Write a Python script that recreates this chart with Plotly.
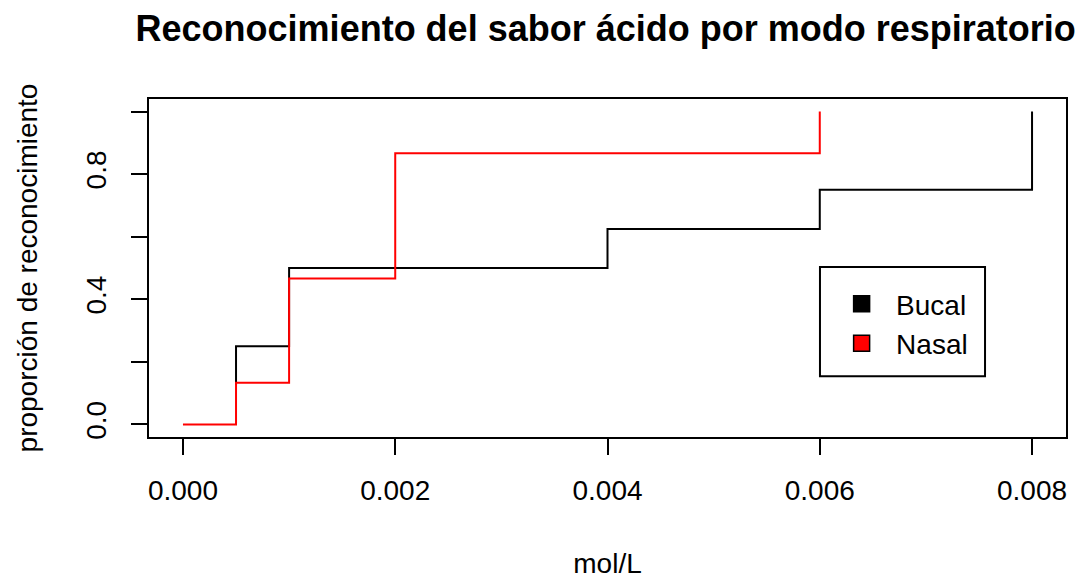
import plotly.graph_objects as go

# Data
bucal_x = [0.0005, 0.0005, 0.001, 0.004, 0.006, 0.008]
bucal_y = [0.125, 0.25, 0.5, 0.625, 0.75, 1.0]
nasal_x = [0.0, 0.0005, 0.001, 0.002, 0.006]
nasal_y = [0.0, 0.1333, 0.4667, 0.8667, 1.0]
series_names = ["Bucal", "Nasal"]
series_colors = ["black", "red"]
x_tickvals = [0.0, 0.002, 0.004, 0.006, 0.008]
x_ticktext = ["0.000", "0.002", "0.004", "0.006", "0.008"]
y_tickvals = [0.0, 0.2, 0.4, 0.6, 0.8, 1.0]
y_ticktext = ["0.0", "", "0.4", "", "0.8", ""]

FONT = "Liberation Sans, Arial, sans-serif"

fig = go.Figure()
fig.add_trace(go.Scatter(x=bucal_x, y=bucal_y, mode="lines",
                         line=dict(color=series_colors[0], width=2, shape="hv"), showlegend=False))
fig.add_trace(go.Scatter(x=nasal_x, y=nasal_y, mode="lines",
                         line=dict(color=series_colors[1], width=2, shape="hv"), showlegend=False))
for name, col in zip(series_names, series_colors):
    fig.add_trace(go.Scatter(x=[None], y=[None], mode="markers", name=name,
                             marker=dict(symbol="square", size=21, color=col,
                                         line=dict(color="black", width=1.5))))

# legend frame
fig.add_shape(type="rect", xref="paper", yref="paper", x0=0.7317, x1=0.9117, y0=0.180, y1=0.503,
              line=dict(color="black", width=2), fillcolor="white", layer="below")

# page body has an 8px margin: size the figure so the page fits the window
fig.update_layout(
    template="none",
    width=1080, height=571,
    margin=dict(l=141, r=22, t=91, b=142, autoexpand=False),
    paper_bgcolor="white", plot_bgcolor="white",
    font=dict(family=FONT, color="black", size=28),
    title=dict(text="<b>Reconocimiento del sabor ácido por modo respiratorio</b>",
               x=0.498, xanchor="center", xref="paper", y=0.964, yanchor="middle",
               font=dict(size=36, family=FONT)),
    xaxis=dict(range=[-0.00032, 0.00832], tickvals=x_tickvals, ticktext=x_ticktext,
               ticks="outside", ticklen=16, tickwidth=2, tickcolor="black", ticklabelstandoff=11,
               showline=True, linecolor="black", linewidth=2, mirror=True, showgrid=False, zeroline=False,
               automargin=False,
               title=dict(text="mol/L", standoff=60, font=dict(size=28)), tickfont=dict(size=28)),
    yaxis=dict(range=[-0.04, 1.04], tickvals=y_tickvals, ticktext=y_ticktext, tickangle=-90,
               ticks="outside", ticklen=16, tickwidth=2, tickcolor="black", ticklabelstandoff=14,
               showline=True, linecolor="black", linewidth=2, mirror=True, showgrid=False, zeroline=False,
               automargin=False,
               title=dict(text="proporción de reconocimiento", standoff=35, font=dict(size=28)),
               tickfont=dict(size=28)),
    legend=dict(x=0.7395, y=0.467, xanchor="left", yanchor="top", borderwidth=0,
                bgcolor="rgba(0,0,0,0)", font=dict(size=28),
                itemwidth=59, tracegroupgap=0),
)

fig.write_html("out.html")
